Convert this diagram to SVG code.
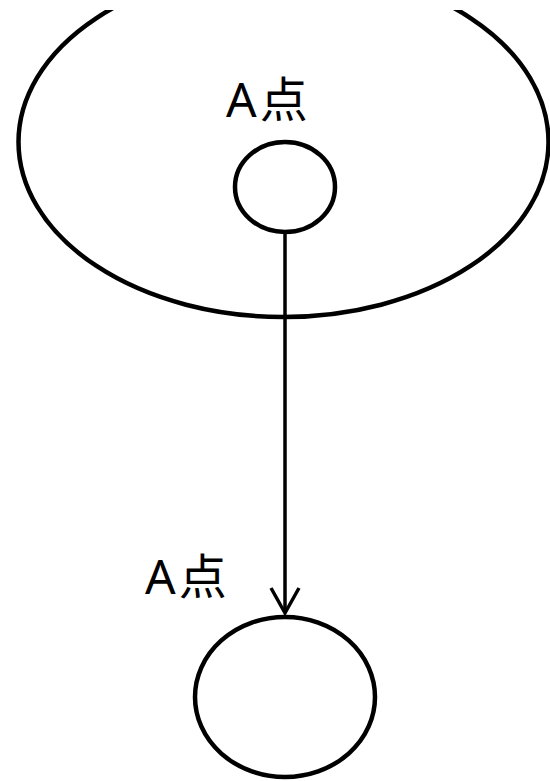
<svg xmlns="http://www.w3.org/2000/svg" width="550" height="781" viewBox="0 0 550 781">
<style>
.shape{fill:none;stroke:#000;stroke-width:4.5}
.lbl{font-family:"Noto Sans","Noto Sans CJK SC",sans-serif;font-size:48px;letter-spacing:3px;fill:#000}
.conn{fill:none;stroke:#000;stroke-width:3.5}
</style>
<defs>
<clipPath id="clip"><rect x="0" y="10" width="550" height="771"/></clipPath>
</defs>
<rect width="550" height="781" fill="#fff"/>
<g id="region" clip-path="url(#clip)">
<ellipse class="shape" cx="283.5" cy="142" rx="265" ry="175"/>
</g>
<g id="nodeA1">
<text class="lbl" x="226" y="117">A点</text>
<ellipse class="shape" cx="285" cy="187" rx="50" ry="45" stroke-width="5"/>
</g>
<g id="nodeA2">
<text class="lbl" x="145" y="594">A点</text>
<ellipse class="shape" cx="285" cy="697" rx="90" ry="80" stroke-width="5.5"/>
</g>
<g id="connectors">
<line class="conn" x1="285" y1="232" x2="285" y2="613"/>
<polyline class="conn" points="271,588 285,613 299,588"/>
</g>
</svg>
